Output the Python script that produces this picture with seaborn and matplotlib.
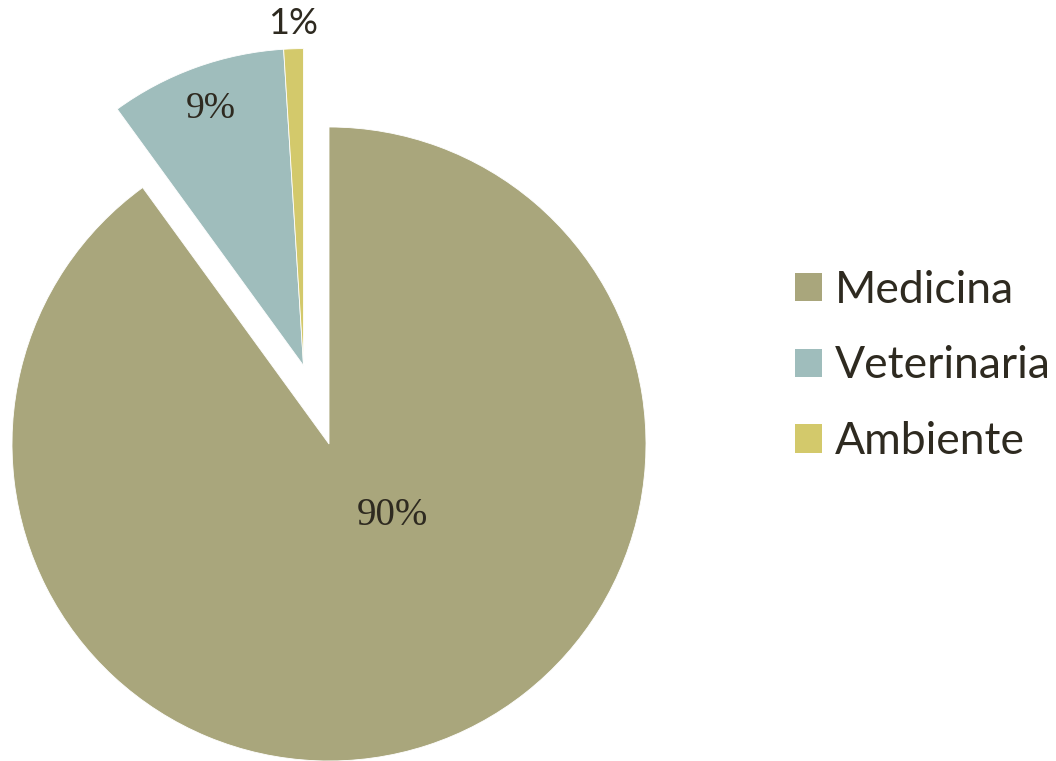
import numpy as np
import matplotlib
matplotlib.use("Agg")
import matplotlib.pyplot as plt
from matplotlib.patches import Patch
import seaborn as sns

# Share of isolates by field
categories = ["Medicina", "Veterinaria", "Ambiente"]
shares = [90, 9, 1]
colors = ["#A9A67C", "#9FBDBC", "#D3C96B"]

sns.set_theme(style="white")
plt.rcParams["font.family"] = ["Lato", "DejaVu Sans"]
text_color = "#2E2A20"

W, H, DPI = 1056, 761, 100
fig = plt.figure(figsize=(W / DPI, H / DPI), dpi=DPI)
ax = fig.add_axes([0, 0, 1, 1])

# pie centre and radius in pixels, used to lay out equal-scale axes
cx, cy, R = 329, 444, 317

wedges, _ = ax.pie(
    shares, colors=colors, startangle=90, counterclock=False, radius=1,
    wedgeprops=dict(edgecolor="white", linewidth=0.6),
)
ax.set_xlim(-cx / R, (W - cx) / R)
ax.set_ylim((cy - H) / R, cy / R)
ax.set_aspect("auto")
ax.axis("off")

# pull the two small slices out together, along the middle of their joint arc
theta_start = 90 - 360 * shares[0] / sum(shares)
theta_end = 90 - 360
mid = np.deg2rad((theta_start + theta_end) / 2)
explode = 0.26
off = np.array([np.cos(mid), np.sin(mid)]) * explode
for w in wedges[1:]:
    w.set_center(tuple(off))

# percentage labels
def mid_angle(w):
    return np.deg2rad((w.theta1 + w.theta2) / 2)

ax.text(0.20, -0.225, f"{shares[0]}%", ha="center", va="center",
        fontsize=28, family="Liberation Serif", color=text_color)
a = mid_angle(wedges[1])
ax.text(off[0] + 0.86 * np.cos(a), off[1] + 0.86 * np.sin(a), f"{shares[1]}%",
        ha="center", va="center", fontsize=27, family="Liberation Serif",
        color=text_color)
a = mid_angle(wedges[2])
ax.text(off[0] + 1.08 * np.cos(a), off[1] + 1.08 * np.sin(a), f"{shares[2]}%",
        ha="center", va="center", fontsize=26, color=text_color)

handles = [Patch(facecolor=c, edgecolor="none") for c in colors]
leg = fig.legend(
    handles, categories, loc="center left",
    bbox_to_anchor=(795 / W, 1 - 366 / H), frameon=False,
    fontsize=32, handlelength=0.61, handleheight=0.61,
    handletextpad=0.29, labelspacing=0.78, borderpad=0, borderaxespad=0,
)
for t in leg.get_texts():
    t.set_color(text_color)

fig.savefig("out.png", dpi=DPI)
